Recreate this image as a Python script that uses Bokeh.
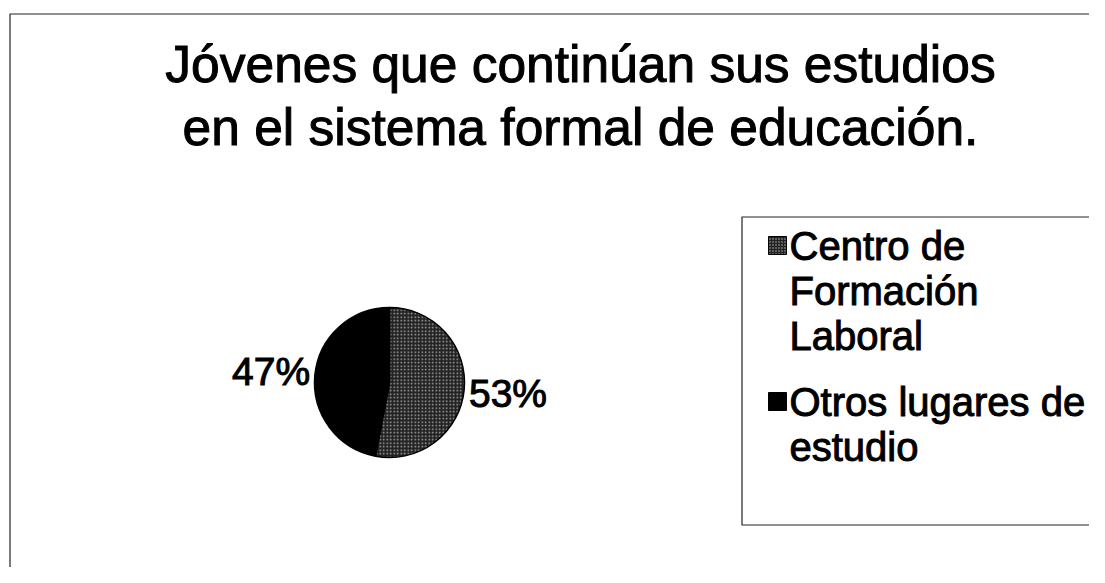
import math
from bokeh.plotting import figure
from bokeh.models import Range1d, ColumnDataSource
from bokeh.core.properties import value
from bokeh.embed import file_html
from bokeh.resources import INLINE

# ---- data ----
categories = ["Centro de Formación Laboral", "Otros lugares de estudio"]
legend_lines = [["Centro de", "Formación", "Laboral"], ["Otros lugares de", "estudio"]]
values = [53, 47]
title_lines = ["Jóvenes que continúan sus estudios", "en el sistema formal de educación."]

FONT = value("Liberation Sans")

W, H = 1089, 567
p = figure(width=W, height=H, output_backend="svg", toolbar_location=None,
           x_range=Range1d(0, W), y_range=Range1d(-H, 0),
           x_axis_location=None, y_axis_location=None, min_border=0,
           outline_line_color=None, background_fill_color="white",
           border_fill_color="white")
p.grid.visible = False

# outer chart border (left and top visible)
p.line(x=[9.5, 9.5, 1200], y=[-600, -13.5, -13.5], line_color="#222222", line_width=1.2)

# ---- pie ----
cx, cy, r = 389, -382, 75
total = sum(values)
starts, ends, mids = [], [], []
a = math.pi / 2
for v in values:
    sweep = 2 * math.pi * v / total
    starts.append(a)
    ends.append(a - sweep)
    mids.append(a - sweep / 2)
    a -= sweep

src = ColumnDataSource(dict(start=starts, end=ends, cat=categories,
                            fill=["#222222", "#000000"],
                            hatch=["dot", " "]))
p.wedge(x=cx, y=cy, radius=r, start_angle="start", end_angle="end",
        direction="clock", source=src, fill_color="fill",
        line_color="black", line_width=1.5,
        hatch_pattern="hatch", hatch_color="#b8b8b8", hatch_scale=3.5,
        hatch_weight=1.0, hatch_alpha=0.9)

# percentage labels
lr = 119
lx = [cx + lr * math.cos(m) for m in mids]
ly = [cy + lr * math.sin(m) for m in mids]
labels = [f"{round(100 * v / total)}%" for v in values]
p.text(x=lx, y=ly, text=labels, text_font=FONT, text_font_size="39px",
       text_align="center", text_baseline="middle", text_color="black",
       text_outline_color="black")

# ---- title ----
p.text(x=[580, 580], y=[-63, -126], text=title_lines, text_font=FONT,
       text_font_size="51.5px", text_align="center", text_baseline="middle",
       text_color="black", text_outline_color="black")

# ---- legend ----
p.line(x=[1200, 741.5, 741.5, 1200], y=[-216.5, -216.5, -524.5, -524.5],
       line_color="#222222", line_width=1.2)
sq_y = [-245, -401]
p.rect(x=[777, 777], y=sq_y, width=18, height=18,
       fill_color=["#222222", "#000000"], line_color="black",
       hatch_pattern=["dot", " "], hatch_color="#b8b8b8", hatch_scale=3.0,
       hatch_weight=0.8)
mid0 = [-245, -401]
tx, ty, tt = [], [], []
for i, lines in enumerate(legend_lines):
    for j, s in enumerate(lines):
        tx.append(789)
        ty.append(mid0[i] - 45 * j)
        tt.append(s)
p.text(x=tx, y=ty, text=tt, text_font=FONT, text_font_size="40px",
       text_align="left", text_baseline="middle", text_color="black",
       text_outline_color="black")

open("out.html", "w").write(file_html(p, INLINE))
